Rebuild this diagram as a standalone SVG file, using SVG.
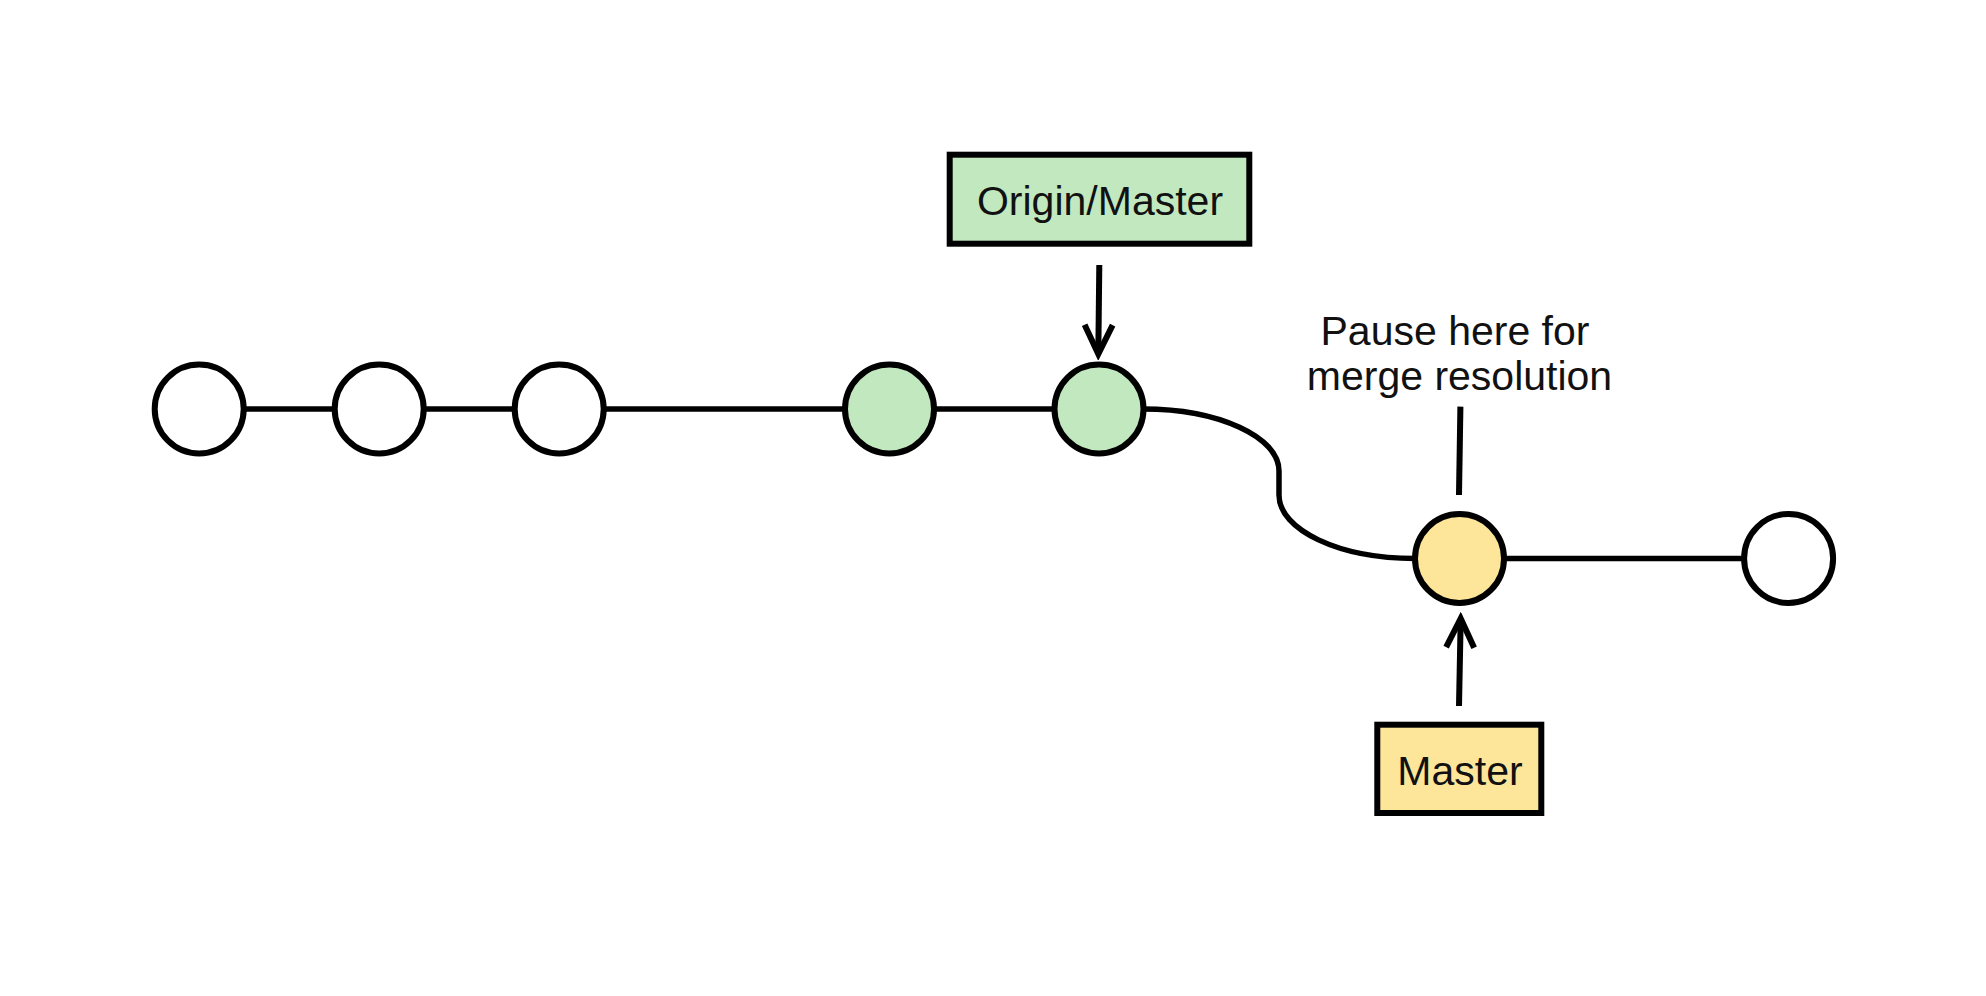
<svg xmlns="http://www.w3.org/2000/svg" width="1986" height="996" viewBox="0 0 1986 996">
  <style>
    .commit { stroke: #000; stroke-width: 6; }
    .plain { fill: #ffffff; }
    .green { fill: #c2e8bf; }
    .yellow { fill: #fde69a; }
    .edge { stroke: #000; stroke-width: 5.5; fill: none; }
    .ptr { stroke: #000; stroke-width: 6; fill: none; }
    .label { font-family: "Liberation Sans", Arial, sans-serif; font-size: 41px; fill: #111; }
    .box { stroke: #000; stroke-width: 6; }
  </style>
  <defs>
    <marker id="arrow" viewBox="-34 -18 40 36" markerUnits="userSpaceOnUse" markerWidth="40" markerHeight="36" refX="0" refY="0" orient="auto">
      <path d="M-29,-14 L0,0 L-29,14" fill="none" stroke="#000" stroke-width="6"/>
    </marker>
  </defs>
  <rect width="1986" height="996" fill="#ffffff"/>

  <g id="connectors">
    <line class="edge" x1="244" y1="409" x2="334" y2="409"/>
    <line class="edge" x1="424" y1="409" x2="514" y2="409"/>
    <line class="edge" x1="604" y1="409" x2="845" y2="409"/>
    <line class="edge" x1="934" y1="409" x2="1054" y2="409"/>
    <path class="edge" d="M1143,409 C1219,409 1279,437 1279,471 L1279,495 C1279,530 1339,558.5 1415,558.5"/>
    <line class="edge" x1="1504" y1="558.5" x2="1744" y2="558.5"/>
    <line class="ptr" x1="1099.3" y1="265" x2="1098.3" y2="354" marker-end="url(#arrow)"/>
    <line class="ptr" x1="1459" y1="706" x2="1460.7" y2="618.5" marker-end="url(#arrow)"/>
    <line class="ptr" x1="1460.4" y1="406.6" x2="1459" y2="495"/>
  </g>

  <g id="c1"><circle class="commit plain" cx="199.2" cy="409" r="44.5"/></g>
  <g id="c2"><circle class="commit plain" cx="379.2" cy="409" r="44.5"/></g>
  <g id="c3"><circle class="commit plain" cx="559.2" cy="409" r="44.5"/></g>
  <g id="c4"><circle class="commit green" cx="889.5" cy="409" r="44.5"/></g>
  <g id="c5"><circle class="commit green" cx="1099" cy="409" r="44.5"/></g>
  <g id="c6"><circle class="commit yellow" cx="1459.5" cy="558.5" r="44.5"/></g>
  <g id="c7"><circle class="commit plain" cx="1788.6" cy="558.5" r="44.5"/></g>

  <g id="origin-master">
    <rect class="box green" x="949.7" y="154.7" width="299.6" height="89"/>
    <text class="label" x="1100" y="215" text-anchor="middle">Origin/Master</text>
  </g>

  <g id="master">
    <rect class="box yellow" x="1377.3" y="724.7" width="164" height="88.3"/>
    <text class="label" x="1460" y="785" text-anchor="middle">Master</text>
  </g>

  <g id="pause-note">
    <text class="label" x="1455" y="345" text-anchor="middle">Pause here for</text>
    <text class="label" x="1459.5" y="390" text-anchor="middle">merge resolution</text>
  </g>
</svg>
